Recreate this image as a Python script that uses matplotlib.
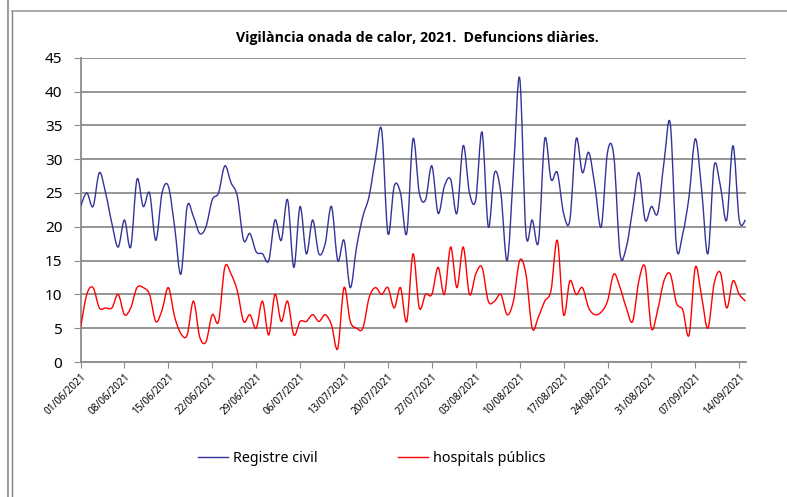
import matplotlib
matplotlib.use('agg')
import matplotlib.pyplot as plt
import matplotlib.dates as mdates
from matplotlib.path import Path
from matplotlib.patches import PathPatch
from matplotlib.lines import Line2D
import numpy as np
import pandas as pd

# daily deaths, 01/06/2021 .. 15/09/2021
start_date = '2021-06-01'
registre_civil = [23, 25, 23, 28, 25, 20.5, 17, 21, 17, 27,
                  23, 25, 18, 25, 26, 20, 13, 23, 21.5, 19,
                  20, 24, 25, 29, 26.5, 24.5, 18, 19, 16.3, 16,
                  15, 21, 18, 24, 14, 23, 16, 21, 16, 17.5,
                  23, 15, 18, 11, 17, 21.5, 24.5, 30, 34.3, 19,
                  26, 25, 19, 33, 25, 24, 29, 22, 26, 27,
                  22, 32, 25, 24, 34, 20, 28, 25, 15, 28,
                  42, 19, 21, 17.8, 33, 27, 28, 22, 21, 33,
                  28, 31, 26, 20, 31, 30.5, 16, 17, 22.5, 28,
                  21, 23, 22, 29.5, 35.3, 17, 19, 24.5, 33, 25.5,
                  16, 29, 26, 21, 32, 21, 21]
hospitals_publics = [5, 10, 11, 8, 8, 8, 10, 7, 8, 11,
                     11, 10, 6, 7.7, 11, 6.7, 4.2, 4, 9, 3.7,
                     3, 7, 6, 14, 13, 10.5, 6, 7, 5, 9,
                     4, 10, 6, 9, 4, 6, 6, 7, 6, 7,
                     5.5, 2, 11, 6, 5, 5, 9.5, 11, 10, 11,
                     8, 11, 6, 16, 8, 10, 10, 14, 10, 17,
                     11, 17, 10, 13, 14, 9, 9, 10, 7, 9,
                     15, 13, 5, 6.7, 9, 10.6, 18, 7, 12, 10,
                     11, 8, 7, 7.4, 9, 13, 11, 8, 6, 12,
                     14, 5, 7.7, 12, 13, 8.7, 7.7, 4, 14, 9.7,
                     5, 11.6, 13.2, 8, 12, 10, 9]
series_names = ['Registre civil', 'hospitals públics']
series_colors = ['#333399', '#ff0000']

dates = pd.date_range(start_date, periods=len(registre_civil), freq='D')


def smooth_path(x, y):
    # excel-like smoothed line: catmull-rom segments as cubic beziers
    x = np.asarray(x, float)
    y = np.asarray(y, float)
    n = len(x)
    verts = [(x[0], y[0])]
    codes = [Path.MOVETO]
    for i in range(n - 1):
        i0 = max(i - 1, 0)
        i3 = min(i + 2, n - 1)
        c1 = (x[i] + (x[i + 1] - x[i0]) / 6, y[i] + (y[i + 1] - y[i0]) / 6)
        c2 = (x[i + 1] - (x[i3] - x[i]) / 6, y[i + 1] - (y[i3] - y[i]) / 6)
        verts += [c1, c2, (x[i + 1], y[i + 1])]
        codes += [Path.CURVE4] * 3
    return Path(verts, codes)


plt.rcParams['font.family'] = ['Noto Sans', 'DejaVu Sans']

fig = plt.figure(figsize=(7.87, 4.97), dpi=100)
ax = fig.add_axes([0.1023, 0.2716, 0.8450, 0.6123])

xnum = mdates.date2num(dates)
for vals, name, col in zip([registre_civil, hospitals_publics], series_names, series_colors):
    ax.add_patch(PathPatch(smooth_path(xnum, vals), facecolor='none',
                           edgecolor=col, lw=1.0, zorder=3))

ax.set_xlim(xnum[0], xnum[-1])
ax.set_ylim(0, 45)
ax.set_yticks(range(0, 46, 5))
ax.yaxis.grid(True, color='#8c8c8c', lw=1.3)
ax.set_axisbelow(True)

ticks = dates[::7]
ax.set_xticks(mdates.date2num(ticks))
ax.set_xticklabels([d.strftime('%d/%m/%Y') for d in ticks], rotation=45,
                   ha='right', rotation_mode='anchor', fontsize=7.2)
ax.tick_params(axis='y', labelsize=11, length=5, color='#8c8c8c', pad=8)
ax.tick_params(axis='x', length=4, color='#8c8c8c', pad=3)

for s in ['top', 'right']:
    ax.spines[s].set_visible(False)
for s in ['left', 'bottom']:
    ax.spines[s].set_color('#8c8c8c')
    ax.spines[s].set_linewidth(1.3)

fig.text(0.530, 0.924, 'Vigilància onada de calor, 2021.  Defuncions diàries.',
         ha='center', va='center', fontsize=10.2, fontweight='bold',
         family=['Open Sans', 'DejaVu Sans'], fontstretch='condensed')

handles = [Line2D([], [], color=c, lw=1.0) for c in series_colors]
fig.legend(handles, series_names, loc='center', bbox_to_anchor=(0.472, 0.078),
           ncol=2, frameon=False, fontsize=10.3, handlelength=2.1,
           handletextpad=0.35, columnspacing=5.6)

# chart area frame
fig.add_artist(Line2D([8 / 787, 8 / 787], [0, 1], color='#a0a0a0', lw=1.5))
fig.add_artist(Line2D([11.5 / 787, 11.5 / 787], [0, 1 - 11 / 497], color='#808080', lw=1.0))
fig.add_artist(Line2D([11.5 / 787, 1], [1 - 11 / 497, 1 - 11 / 497], color='#a0a0a0', lw=1.3))

fig.savefig('out.png', dpi=100)
